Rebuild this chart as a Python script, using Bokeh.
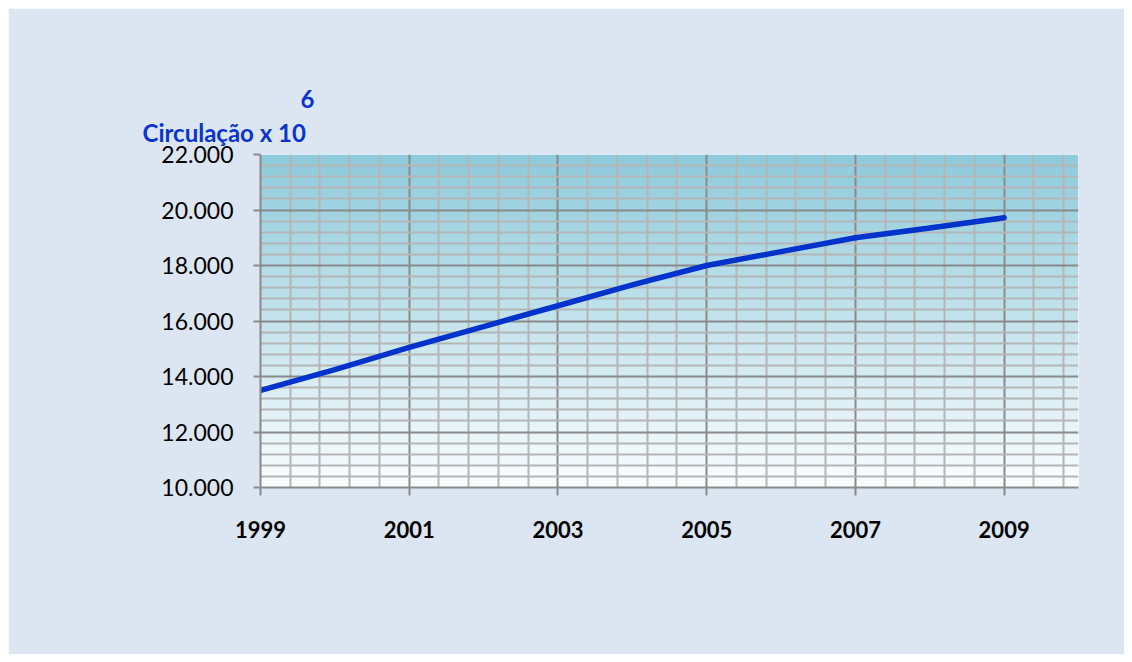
import numpy as np
from bokeh.plotting import figure
from bokeh.models import Range1d, FixedTicker, Title, Spacer
from bokeh.layouts import column, row
from bokeh.embed import file_html
from bokeh.resources import INLINE

# ---- data ----
years = [1999, 2000, 2001, 2002, 2003, 2004, 2005, 2006, 2007, 2008, 2009]
circulacao = [13500, 14250, 15050, 15800, 16550, 17300, 18000, 18500, 19000, 19350, 19720]
x_ticks = [1999, 2001, 2003, 2005, 2007, 2009]
y_ticks = [10000, 12000, 14000, 16000, 18000, 20000, 22000]
y_tick_labels = ["10.000", "12.000", "14.000", "16.000", "18.000", "20.000", "22.000"]
title_text = "Circulação x 10"
title_exp = "6"

X0, X1 = 1999, 2010
Y0, Y1 = 10000, 22000
x_minor = [round(X0 + 0.4 * i, 1) for i in range(int(round((X1 - X0) / 0.4)) + 1)]
x_minor = [v for v in x_minor if v not in x_ticks and v < X1]
y_minor = [v for v in range(Y0, Y1 + 1, 400) if v not in y_ticks]

FONT = "Lato"
BG = "#dce6f2"
TITLE_COLOR = "#0a34cf"

p = figure(width=1116, height=646, output_backend="svg", toolbar_location=None,
           x_range=Range1d(X0, X1), y_range=Range1d(Y0, Y1),
           min_border_left=252, min_border_right=46, min_border_top=146,
           min_border_bottom=167, title=None)
p.border_fill_color = BG
p.background_fill_color = "#ffffff"
p.outline_line_color = None

# gradient plot area (style only)
n = 256
t = np.linspace(0, 1, n)[:, None]  # 0 bottom -> 1 top
top = np.array([142, 203, 220])
bot = np.array([251, 253, 254])
cols = (bot + (top - bot) * t).astype(np.uint32)
img = np.empty((n, 1), dtype=np.uint32)
view = img.view(dtype=np.uint8).reshape((n, 1, 4))
view[:, 0, 0] = cols[:, 0]
view[:, 0, 1] = cols[:, 1]
view[:, 0, 2] = cols[:, 2]
view[:, 0, 3] = 255
r_img = p.image_rgba(image=[img], x=X0, y=Y0, dw=X1 - X0, dh=Y1 - Y0)
r_img.level = "image"

# grids
p.xgrid.ticker = FixedTicker(ticks=x_ticks, minor_ticks=x_minor)
p.ygrid.ticker = FixedTicker(ticks=y_ticks, minor_ticks=y_minor)
for g in (p.xgrid, p.ygrid):
    g.grid_line_color = "#8a8a8a"
    g.grid_line_width = 2
    g.minor_grid_line_color = "#b5b5b5"
    g.minor_grid_line_width = 2

# axes
p.xaxis.ticker = FixedTicker(ticks=x_ticks)
p.yaxis.ticker = FixedTicker(ticks=y_ticks)
p.yaxis.major_label_overrides = {v: s for v, s in zip(y_ticks, y_tick_labels)}
for ax in (p.xaxis[0], p.yaxis[0]):
    ax.axis_line_color = "#8a8a8a"
    ax.axis_line_width = 2
    ax.major_tick_line_color = "#8a8a8a"
    ax.major_tick_line_width = 2
    ax.major_tick_in = 0
    ax.minor_tick_line_color = None
    ax.major_label_text_font = FONT
    ax.major_label_text_color = "#000000"
p.xaxis.major_label_text_font_size = "22px"
p.yaxis.major_label_text_font_size = "23px"
p.xaxis.major_tick_out = 8
p.yaxis.major_tick_out = 7
p.xaxis.major_label_text_font_style = "bold"
p.xaxis.major_label_standoff = 25
p.yaxis.major_label_standoff = 20

# series
p.line(years, circulacao, line_color="#0033cc", line_width=5.5, line_cap="round", line_join="round")

# axis title (as plot titles above the frame)
t_main = Title(text=title_text, align="left", offset=-118, standoff=16,
               text_font=FONT, text_font_style="bold", text_font_size="24px",
               text_color=TITLE_COLOR)
t_exp = Title(text=title_exp, align="left", offset=40, standoff=0,
              text_font=FONT, text_font_style="bold", text_font_size="24px",
              text_color=TITLE_COLOR)
p.add_layout(t_main, "above")
p.add_layout(t_exp, "above")

layout = column(Spacer(height=8), row(Spacer(width=8), p))
open("out.html", "w").write(file_html(layout, INLINE))
